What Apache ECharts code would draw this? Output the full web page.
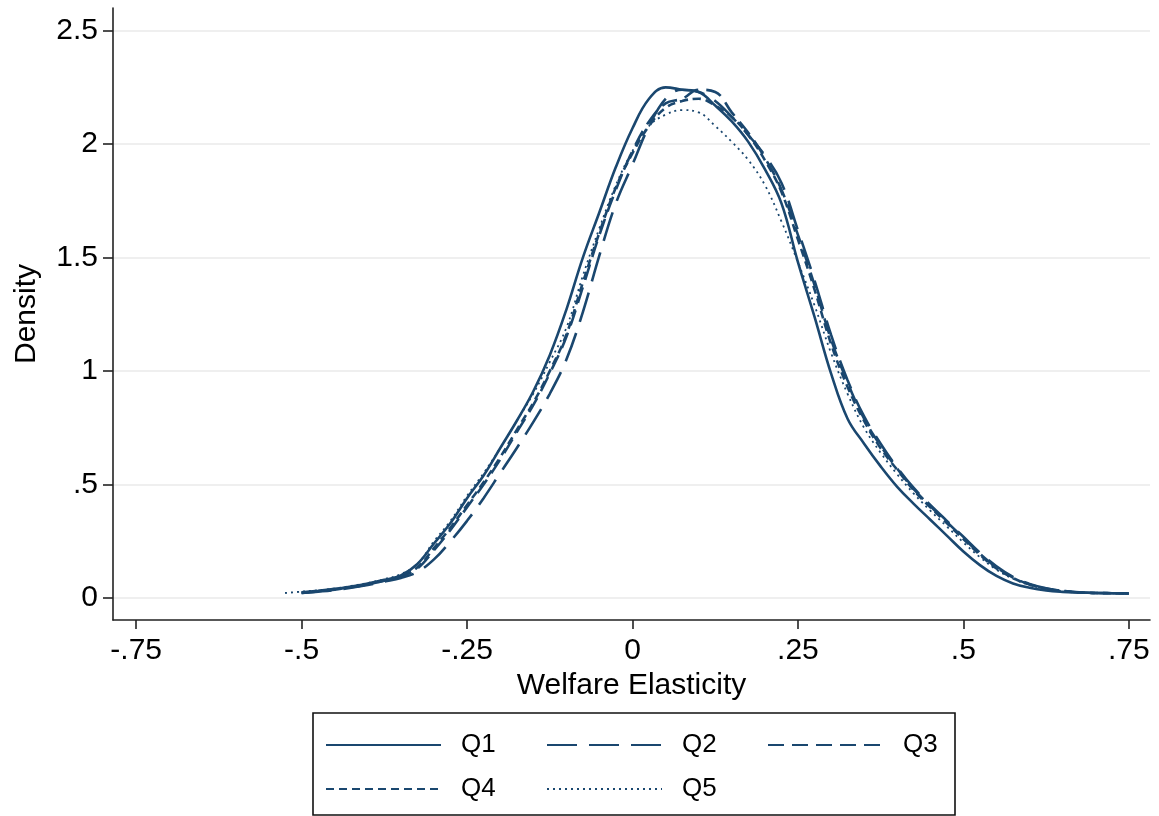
<!DOCTYPE html>
<html>
<head>
<meta charset="utf-8">
<title>Welfare Elasticity density by quintile</title>
<script src="https://cdn.jsdelivr.net/npm/echarts@6/dist/echarts.min.js"></script>
<style>
  html, body { margin: 0; padding: 0; background: #fff; }
  #chart { width: 1159px; height: 816px; }
</style>
</head>
<body>
<div id="chart"></div>
<script>
// Evaluation grid for the kernel density estimates (welfare elasticity)
const xGrid = [-0.525, -0.5, -0.475, -0.45, -0.425, -0.4, -0.375, -0.35, -0.325, -0.3,
  -0.275, -0.25, -0.225, -0.2, -0.175, -0.15, -0.125, -0.1, -0.075, -0.05,
  -0.025, 0, 0.025, 0.05, 0.075, 0.1, 0.125, 0.15, 0.175, 0.2,
  0.225, 0.25, 0.275, 0.3, 0.325, 0.35, 0.375, 0.4, 0.425, 0.45,
  0.475, 0.5, 0.525, 0.55, 0.575, 0.6, 0.625, 0.65, 0.675, 0.7,
  0.725, 0.75];

// Density by quintile (null = outside the estimated support)
const q1 = [null, 0.025, 0.032, 0.040, 0.051, 0.064, 0.080, 0.100, 0.150, 0.240,
  0.330, 0.440, 0.540, 0.660, 0.780, 0.910, 1.070, 1.270, 1.500, 1.700,
  1.900, 2.070, 2.200, 2.250, 2.240, 2.230, 2.170, 2.100, 2.010, 1.890,
  1.740, 1.480, 1.240, 0.990, 0.790, 0.680, 0.580, 0.490, 0.415, 0.345,
  0.275, 0.205, 0.145, 0.097, 0.064, 0.045, 0.033, 0.027, 0.024, 0.022,
  0.021, 0.020];
const q2 = [null, 0.022, 0.028, 0.035, 0.045, 0.057, 0.072, 0.088, 0.115, 0.170,
  0.250, 0.340, 0.440, 0.550, 0.660, 0.775, 0.900, 1.050, 1.260, 1.510,
  1.740, 1.910, 2.080, 2.200, 2.240, 2.230, 2.190, 2.120, 2.040, 1.950,
  1.830, 1.620, 1.400, 1.160, 0.960, 0.800, 0.680, 0.575, 0.485, 0.410,
  0.340, 0.270, 0.200, 0.140, 0.093, 0.062, 0.043, 0.032, 0.025, 0.022,
  0.021, 0.020];
const q3 = [null, 0.022, 0.029, 0.037, 0.047, 0.060, 0.076, 0.095, 0.130, 0.210,
  0.300, 0.400, 0.500, 0.610, 0.730, 0.850, 0.990, 1.150, 1.370, 1.600,
  1.800, 1.970, 2.100, 2.180, 2.200, 2.240, 2.230, 2.140, 2.050, 1.940,
  1.800, 1.600, 1.380, 1.140, 0.950, 0.790, 0.670, 0.570, 0.480, 0.405,
  0.335, 0.265, 0.195, 0.135, 0.090, 0.060, 0.042, 0.031, 0.024, 0.022,
  0.021, 0.020];
const q4 = [null, 0.023, 0.030, 0.038, 0.048, 0.061, 0.077, 0.096, 0.135, 0.220,
  0.310, 0.410, 0.510, 0.620, 0.740, 0.860, 1.000, 1.160, 1.390, 1.610,
  1.810, 1.960, 2.080, 2.160, 2.190, 2.200, 2.170, 2.120, 2.040, 1.930,
  1.790, 1.580, 1.360, 1.120, 0.930, 0.780, 0.660, 0.565, 0.475, 0.400,
  0.330, 0.260, 0.190, 0.130, 0.088, 0.059, 0.041, 0.031, 0.024, 0.022,
  0.021, 0.020];
const q5 = [0.022, 0.028, 0.034, 0.042, 0.053, 0.066, 0.083, 0.105, 0.150, 0.250,
  0.340, 0.450, 0.550, 0.660, 0.780, 0.900, 1.040, 1.190, 1.420, 1.630,
  1.820, 1.970, 2.080, 2.130, 2.150, 2.140, 2.080, 2.010, 1.930, 1.820,
  1.660, 1.480, 1.290, 1.080, 0.900, 0.750, 0.640, 0.545, 0.460, 0.385,
  0.315, 0.245, 0.180, 0.125, 0.085, 0.057, 0.040, 0.030, 0.024, 0.022,
  0.021, 0.020];

const seriesNames = ['Q1', 'Q2', 'Q3', 'Q4', 'Q5'];

// Axis ticks and their printed labels
const xTicks = [-0.75, -0.5, -0.25, 0, 0.25, 0.5, 0.75];
const xTickLabels = ['-.75', '-.5', '-.25', '0', '.25', '.5', '.75'];
const yTicks = [0, 0.5, 1, 1.5, 2, 2.5];
const yTickLabels = ['0', '.5', '1', '1.5', '2', '2.5'];

const NAVY = '#1a476f';
const FONT = '"Liberation Sans", Helvetica, Arial, sans-serif';

// Line pattern for each quintile: solid, long dash, dash, short dash, dot
const lineStyles = [
  { width: 2.6, type: 'solid' },
  { width: 2.6, type: [30, 12] },
  { width: 2.6, type: [16, 8] },
  { width: 2.6, type: [8, 5] },
  { width: 1.8, type: [2, 4] }
];

function pairs(ys) {
  return xGrid.map((x, i) => [x, ys[i]]);
}

function labelFor(ticks, labels) {
  return function (v) {
    const i = ticks.findIndex(t => Math.abs(t - v) < 1e-9);
    return i >= 0 ? labels[i] : '';
  };
}

const densities = [q1, q2, q3, q4, q5];

const chart = echarts.init(document.getElementById('chart'), null, { renderer: 'canvas' });

chart.setOption({
  animation: false,
  backgroundColor: '#ffffff',
  textStyle: { fontFamily: FONT },
  grid: { left: 113, right: 9, top: 8, bottom: 196, containLabel: false, outerBoundsMode: 'none' },
  xAxis: {
    type: 'value',
    min: -0.785,
    max: 0.782,
    name: 'Welfare Elasticity',
    nameLocation: 'middle',
    nameGap: 50,
    nameTextStyle: { fontSize: 30, color: '#000', fontFamily: FONT },
    axisLine: { show: true, onZero: false, lineStyle: { color: '#222', width: 1.6 } },
    axisTick: { show: true, length: 9, customValues: xTicks, lineStyle: { color: '#222', width: 1.6 } },
    axisLabel: {
      customValues: xTicks, margin: 16, fontSize: 30, color: '#000', fontFamily: FONT,
      formatter: labelFor(xTicks, xTickLabels)
    },
    splitLine: { show: false }
  },
  yAxis: {
    type: 'value',
    min: -0.097,
    max: 2.6,
    name: 'Density',
    nameLocation: 'middle',
    nameRotate: 90,
    nameGap: 71,
    nameTextStyle: { fontSize: 30, color: '#000', fontFamily: FONT },
    axisLine: { show: true, onZero: false, lineStyle: { color: '#222', width: 1.6 } },
    axisTick: { show: true, length: 10, customValues: yTicks, lineStyle: { color: '#222', width: 1.6 } },
    axisLabel: {
      customValues: yTicks, margin: 15, fontSize: 30, color: '#000', fontFamily: FONT,
      formatter: labelFor(yTicks, yTickLabels)
    },
    splitLine: { show: true, lineStyle: { color: '#eaeaea', width: 1.6 } }
  },
  legend: {
    data: ['Q1', 'Q2', { name: 'Q3', textStyle: { width: 37 } }, '', 'Q4', 'Q5'],
    left: 313,
    top: 713,
    orient: 'horizontal',
    padding: [10, 15, 4, 12],
    itemGap: 0,
    itemWidth: 115,
    itemHeight: 14,
    itemStyle: { opacity: 0 },
    borderColor: '#111',
    borderWidth: 1.6,
    borderRadius: 0,
    textStyle: {
      fontSize: 26, color: '#000', fontFamily: FONT,
      padding: [0, 0, 0, 15], width: 85, lineHeight: 44
    }
  },
  series: seriesNames.map((name, k) => ({
    name: name,
    type: 'line',
    data: pairs(densities[k]),
    showSymbol: false,
    symbol: 'none',
    smooth: 0.4,
    connectNulls: false,
    color: NAVY,
    lineStyle: Object.assign({ color: NAVY, cap: 'butt' }, lineStyles[k]),
    z: 10 - k
  }))
});
</script>
</body>
</html>
